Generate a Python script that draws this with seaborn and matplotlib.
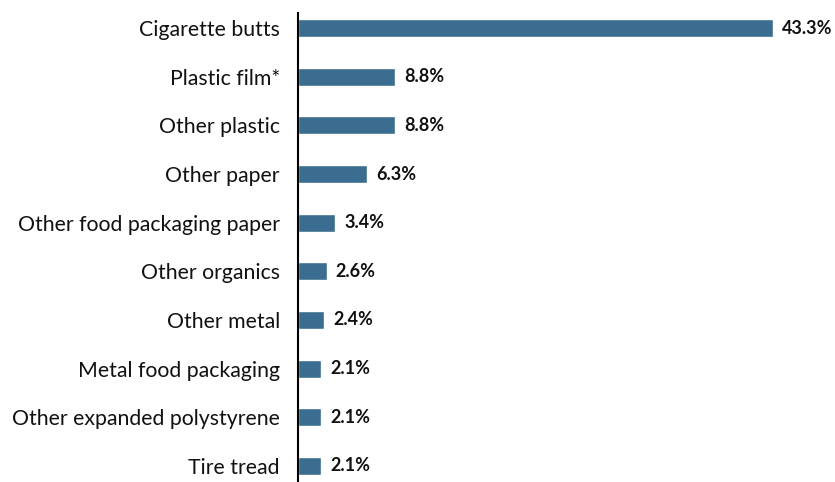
import matplotlib
matplotlib.use("Agg")
import matplotlib.pyplot as plt
import seaborn as sns
import pandas as pd

categories = [
    "Cigarette butts",
    "Plastic film*",
    "Other plastic",
    "Other paper",
    "Other food packaging paper",
    "Other organics",
    "Other metal",
    "Metal food packaging",
    "Other expanded polystyrene",
    "Tire tread",
]
shares = [43.3, 8.8, 8.8, 6.3, 3.4, 2.6, 2.4, 2.1, 2.1, 2.1]
value_labels = ["43.3%", "8.8%", "8.8%", "6.3%", "3.4%", "2.6%", "2.4%", "2.1%", "2.1%", "2.1%"]

df = pd.DataFrame({"item": categories, "share": shares})

sns.set_theme(style="white")
plt.rcParams["font.family"] = ["Lato", "DejaVu Sans"]

W, H = 835, 482
fig = plt.figure(figsize=(W / 100, H / 100), dpi=100)
ax = fig.add_axes([298 / W, 0, 1 - 298 / W, 1 - 13 / H])

sns.barplot(data=df, x="share", y="item", orient="h", color="#3a6d8f",
            saturation=1, width=0.37, ax=ax)

ax.set_xlim(0, (W - 298) / 10.97)
ax.set_ylim(9.33, -0.31)
ax.set_xlabel("")
ax.set_ylabel("")
ax.set_xticks([])
for s in ["top", "right", "bottom"]:
    ax.spines[s].set_visible(False)
ax.spines["left"].set_color("black")
ax.spines["left"].set_linewidth(1.5)
ax.tick_params(axis="y", length=0, pad=13, labelsize=15.3, labelcolor="#111111")

for i, (v, lab) in enumerate(zip(shares, value_labels)):
    ax.text(v + 0.85, i, lab, va="center", ha="left", fontsize=13,
            fontweight="bold", color="#111111")

fig.savefig("out.png", dpi=100)
